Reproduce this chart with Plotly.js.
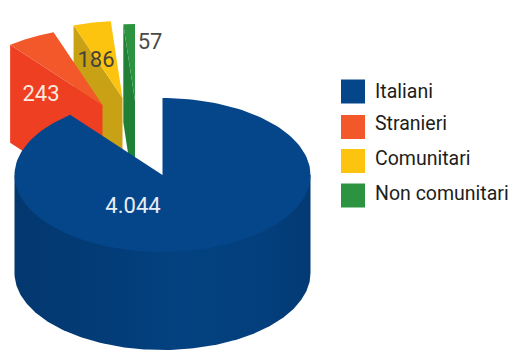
<!DOCTYPE html>
<html>
<head>
<meta charset="utf-8">
<script src="https://cdn.plot.ly/plotly-3.0.1.min.js"></script>
<style>html,body{margin:0;padding:0;background:#fff}#chart{width:512px;height:350px}</style>
</head>
<body>
<div id="chart"></div>
<script>
// Data
const categories = ['Italiani', 'Stranieri', 'Comunitari', 'Non comunitari'];
const values = [4044, 243, 186, 57];
const valueLabels = ['4.044', '243', '186', '57'];

// Colours per slice: top face, cut wall
const topColors = ['#05468a', '#f2582a', '#fdc40f', '#2c9440'];
const wallColors = ['#033f7c', '#ee3f22', '#c9a114', '#1f8036'];

// Pseudo-3D projection of the pie
const CX = 162.5, CY = 175, RX = 148, RY = 77, DEPTH = 98;
// Exploded slices are pulled out from the pie centre by these pixel offsets
const explode = [[0, 0], [-60, -70], [-40, -77], [-27.5, -74]];
const labelX = [133, 41, 96, 150];
const labelY = [207, 95, 61, 43];
const labelColors = ['#e8edf4', '#fbe9df', '#45433a', '#4a4a4a'];
const FONT = 'Roboto, "Liberation Sans", sans-serif';

const total = values.reduce((a, b) => a + b, 0);
const rad = d => d * Math.PI / 180;

// Point on the ellipse, angle measured clockwise from 12 o'clock
function rim(a, ox, oy) {
  return [CX + ox + RX * Math.sin(rad(a)), CY + oy - RY * Math.cos(rad(a))];
}

function poly(points, color, gradient) {
  const t = {
    type: 'scatter', mode: 'lines', fill: 'toself',
    x: points.map(p => p[0]), y: points.map(p => p[1]),
    line: {width: 0, color: color}, fillcolor: color,
    hoverinfo: 'skip', showlegend: false
  };
  if (gradient) t.fillgradient = gradient;
  return t;
}

// Slice angles from the values
const spans = [];
let start = 0;
values.forEach(v => {
  const sweep = v / total * 360;
  spans.push([start, start + sweep]);
  start += sweep;
});

function topFace(i) {
  const [a0, a1] = spans[i], [ox, oy] = explode[i];
  const pts = [[CX + ox, CY + oy]];
  for (let k = 0; k <= 160; k++) pts.push(rim(a0 + (a1 - a0) * k / 160, ox, oy));
  pts.push([CX + ox, CY + oy]);
  return pts;
}

// The cut face seen on the left side of an exploded slice
function cutWall(i) {
  const [a0] = spans[i], [ox, oy] = explode[i];
  const r = rim(a0, ox, oy);
  return [r, [CX + ox, CY + oy], [CX + ox, CY + oy + DEPTH], [r[0], r[1] + DEPTH], r];
}

// Outer wall of the large slice; its upper edge runs under the top face so no seam shows
function outerWall() {
  const pts = [];
  for (let k = 0; k <= 180; k++) pts.push(rim(90 + 180 * k / 180, 0, DEPTH));
  pts.push(rim(270, 0, 0), rim(90, 0, 0), rim(90, 0, DEPTH));
  return pts;
}

const traces = [];
// Paint back to front
[2, 3, 1].forEach(i => {
  traces.push(poly(cutWall(i), wallColors[i]));
  traces.push(poly(topFace(i), topColors[i]));
});
traces.push(poly(outerWall(), wallColors[0], {
  type: 'horizontal',
  colorscale: [[0, '#03386f'], [0.3, '#033c77'], [0.55, '#034180'], [0.85, '#033f7c'], [1, '#033a74']]
}));
traces.push(poly(topFace(0), topColors[0]));

// Value labels
traces.push({
  type: 'scatter', mode: 'text', x: labelX, y: labelY, text: valueLabels,
  textposition: 'middle center', hoverinfo: 'skip', showlegend: false,
  textfont: {family: FONT, size: 22, color: labelColors}
});

// Key: square swatches and names
const keyY = [91.5, 127, 161, 195.5];
const keyTextY = [93, 125, 160, 195.5];
traces.push({
  type: 'scatter', mode: 'markers', x: categories.map(() => 353), y: keyY, hoverinfo: 'skip', showlegend: false,
  marker: {symbol: 'square', size: 24, color: topColors, line: {width: 0}}
});
traces.push({
  type: 'scatter', mode: 'text', x: categories.map(() => 375), y: keyTextY, text: categories,
  textposition: 'middle right', hoverinfo: 'skip', showlegend: false, cliponaxis: false,
  textfont: {family: FONT, size: 19.5, color: '#1d1d1b'}
});

Plotly.newPlot('chart', traces, {
  width: 512, height: 350,
  margin: {l: 0, r: 0, t: 0, b: 0},
  paper_bgcolor: '#fff', plot_bgcolor: '#fff',
  showlegend: false,
  xaxis: {range: [0, 512], visible: false, fixedrange: true},
  yaxis: {range: [350, 0], visible: false, fixedrange: true}
}, {displayModeBar: false, staticPlot: true});
</script>
</body>
</html>
